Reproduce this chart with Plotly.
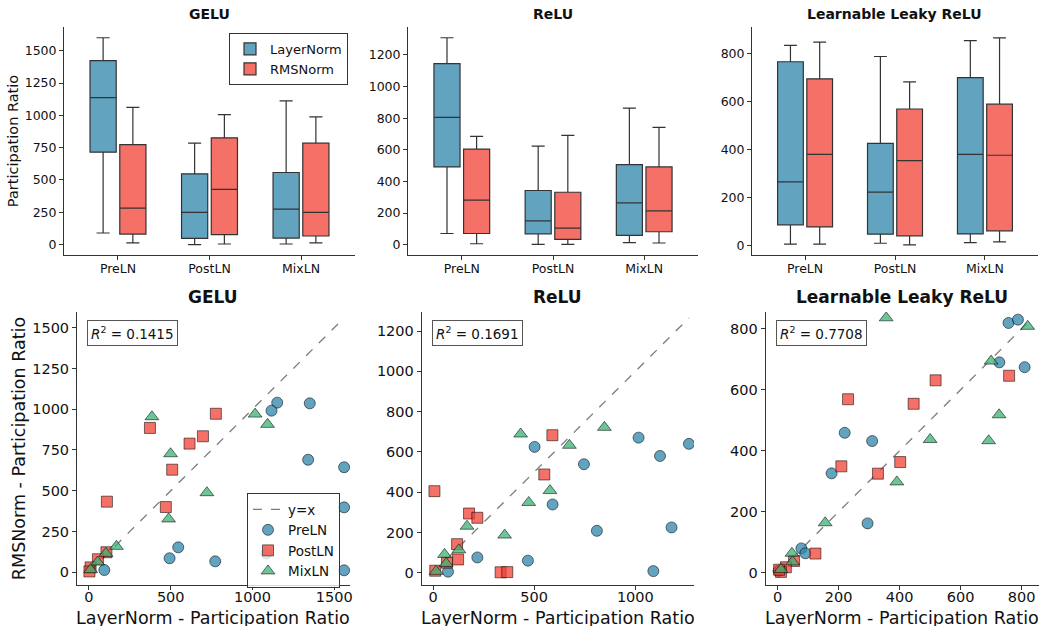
import plotly.graph_objects as go

# ---- categories ----
activations = ["GELU", "ReLU", "Learnable Leaky ReLU"]
archs = ["PreLN", "PostLN", "MixLN"]
r2_values = [0.1415, 0.1691, 0.7708]

# ---- box statistics (rows: GELU, ReLU, Learnable Leaky ReLU; cols: PreLN, PostLN, MixLN) ----
layernorm_low = [[90, 0, 5], [71, 2, 13], [4, 8, 11]]
layernorm_q1 = [[715, 49, 51], [492, 69, 59], [85, 46, 47]]
layernorm_med = [[1137, 250, 275], [805, 151, 265], [264, 221, 379]]
layernorm_q3 = [[1423, 548, 558], [1145, 343, 507], [765, 425, 699]]
layernorm_high = [[1600, 785, 1111], [1309, 624, 864], [833, 787, 853]]

rmsnorm_low = [[13, 5, 13], [6, 2, 11], [4, 1, 14]]
rmsnorm_q1 = [[82, 77, 67], [71, 34, 82], [76, 39, 60]]
rmsnorm_med = [[283, 427, 250], [282, 105, 214], [379, 353, 375]]
rmsnorm_q3 = [[774, 826, 785], [605, 332, 492], [694, 568, 588]]
rmsnorm_high = [[1062, 1006, 988], [685, 691, 742], [847, 681, 865]]

# ---- per-layer participation ratios (LayerNorm on x, RMSNorm on y) ----
gelu_preln_x = [1151, 1116, 1350, 1340, 1560, 1560, 1560, 772, 546, 493, 94, 1085]
gelu_preln_y = [1040, 991, 1036, 690, 644, 398, 12, 67, 153, 86, 14, 115]
gelu_postln_x = [776, 373, 697, 615, 509, 470, 110, 107, 55, 10, 3]
gelu_postln_y = [972, 885, 834, 789, 629, 400, 433, 123, 80, 30, 5]
gelu_mixln_x = [385, 1016, 1092, 499, 721, 487, 168, 104, 53, 10]
gelu_mixln_y = [954, 970, 907, 727, 488, 327, 159, 116, 63, 16]

relu_preln_x = [502, 746, 1016, 1122, 1265, 591, 810, 1179, 1089, 469, 219, 74]
relu_preln_y = [625, 539, 671, 580, 640, 339, 208, 225, 8, 60, 76, 5]
relu_postln_x = [590, 550, 7, 178, 219, 119, 124, 69, 11, 334, 367]
relu_postln_y = [683, 488, 405, 294, 273, 142, 66, 50, 10, 2, 3]
relu_mixln_x = [433, 847, 674, 578, 473, 354, 168, 57, 128, 65, 15]
relu_mixln_y = [689, 722, 633, 408, 349, 187, 231, 91, 114, 46, 7]

llrelu_preln_x = [757, 788, 727, 810, 220, 310, 177, 295, 78, 91, 3]
llrelu_preln_y = [819, 830, 690, 674, 459, 432, 326, 162, 80, 64, 6]
llrelu_postln_x = [518, 759, 231, 446, 402, 209, 329, 124, 54, 27, 11, 5]
llrelu_postln_y = [631, 646, 569, 554, 363, 349, 325, 63, 39, 18, 3, 10]
llrelu_mixln_x = [356, 820, 700, 726, 500, 692, 391, 156, 47, 49, 11]
llrelu_mixln_y = [836, 808, 694, 518, 437, 433, 298, 164, 64, 36, 11]

scatter_data = [
    [(gelu_preln_x, gelu_preln_y), (gelu_postln_x, gelu_postln_y), (gelu_mixln_x, gelu_mixln_y)],
    [(relu_preln_x, relu_preln_y), (relu_postln_x, relu_postln_y), (relu_mixln_x, relu_mixln_y)],
    [(llrelu_preln_x, llrelu_preln_y), (llrelu_postln_x, llrelu_postln_y), (llrelu_mixln_x, llrelu_mixln_y)],
]

# ---- styling ----
FONT = "DejaVu Sans"
LN_FILL = "rgba(46,134,171,0.75)"
RMS_FILL = "rgba(242,66,54,0.75)"
BOX_LINE = "#333333"
arch_colors = ["rgba(46,134,171,0.75)", "rgba(242,66,54,0.75)", "rgba(59,178,115,0.75)"]
arch_symbols = ["circle", "square", "triangle-up"]

W, H = 1041, 626

def px_x(a, b):
    return [a / W, b / W]

def px_y(top, bottom):
    return [(H - bottom) / H, (H - top) / H]

top_x_dom = [px_x(64, 355), px_x(408, 698), px_x(752, 1038)]
top_y_dom = px_y(27, 255)
bot_x_dom = [px_x(77, 350), px_x(421.7, 694), px_x(765.7, 1039)]
bot_y_dom = px_y(312, 585)

top_yranges = [[-80, 1683], [-65, 1377], [-41, 910]]
top_ydtick = [250, 200, 200]
bot_ranges = [([-73, 1596], [-78, 1596]), ([-56, 1290], [-61, 1295]), ([-39, 857], [-40, 855])]
bot_xdtick = [500, 500, 200]
bot_ydtick = [250, 200, 200]

fig = go.Figure()
layout = {}
annotations = []

axis_common = dict(
    showline=True, linecolor="#333", linewidth=1, mirror=False,
    ticks="outside", ticklen=4, tickwidth=1, tickcolor="#333",
    showgrid=False, zeroline=False, automargin=False,
)

for i, act in enumerate(activations):
    # ---------- top row: box plots ----------
    xa = f"xaxis{i + 1 if i else ''}"
    ya = f"yaxis{i + 1 if i else ''}"
    xref = f"x{i + 1 if i else ''}"
    yref = f"y{i + 1 if i else ''}"
    for name, fill, low, q1, med, q3, high in [
        ("LayerNorm", LN_FILL, layernorm_low, layernorm_q1, layernorm_med, layernorm_q3, layernorm_high),
        ("RMSNorm", RMS_FILL, rmsnorm_low, rmsnorm_q1, rmsnorm_med, rmsnorm_q3, rmsnorm_high),
    ]:
        fig.add_trace(go.Box(
            x=archs, lowerfence=low[i], q1=q1[i], median=med[i], q3=q3[i], upperfence=high[i],
            name=name, fillcolor=fill, line=dict(color=BOX_LINE, width=1.2),
            whiskerwidth=0.5, boxpoints=False, offsetgroup=name,
            legendgroup=name, showlegend=(i == 0), legend="legend",
            xaxis=xref, yaxis=yref, hoverinfo="skip",
        ))
    layout[xa] = dict(axis_common, domain=top_x_dom[i], anchor=yref, type="category",
                      range=[-0.59, 2.59], tickfont=dict(family=FONT, size=12.5, color="#111"),
                      ticklabelstandoff=-2)
    layout[ya] = dict(axis_common, domain=top_y_dom, anchor=xref, range=top_yranges[i],
                      dtick=top_ydtick[i], tick0=0, tickfont=dict(family=FONT, size=12.5, color="#111"))
    if i == 0:
        layout[ya]["title"] = dict(text="Participation Ratio", font=dict(family=FONT, size=14.5, color="#111"),
                                   standoff=2)
    annotations.append(dict(
        text=f"<b>{act}</b>", x=sum(top_x_dom[i]) / 2, y=(H - 14) / H, xref="paper", yref="paper",
        showarrow=False, font=dict(family=FONT, size=14, color="#111"), xanchor="center", yanchor="middle",
    ))

    # ---------- bottom row: scatter ----------
    k = i + 4
    xa2, ya2, xr2, yr2 = f"xaxis{k}", f"yaxis{k}", f"x{k}", f"y{k}"
    all_vals = []
    for j, arch in enumerate(archs):
        xs, ys = scatter_data[i][j]
        all_vals += list(xs) + list(ys)
    lo, hi = min(all_vals), max(all_vals)
    fig.add_trace(go.Scatter(
        x=[lo, hi], y=[lo, hi], mode="lines", name="y=x",
        line=dict(color="rgba(110,110,110,0.9)", width=1.3, dash="dash"),
        showlegend=(i == 0), legend="legend2", xaxis=xr2, yaxis=yr2, hoverinfo="skip",
    ))
    for j, arch in enumerate(archs):
        xs, ys = scatter_data[i][j]
        fig.add_trace(go.Scatter(
            x=xs, y=ys, mode="markers", name=arch,
            marker=dict(symbol=arch_symbols[j], size=11 if j != 2 else 12, color=arch_colors[j],
                        line=dict(color="rgba(0,0,0,0.6)", width=0.9)),
            showlegend=(i == 0), legend="legend2", xaxis=xr2, yaxis=yr2, hoverinfo="skip",
        ))
    layout[xa2] = dict(axis_common, domain=bot_x_dom[i], anchor=yr2, range=bot_ranges[i][0],
                       dtick=bot_xdtick[i], tick0=0, tickfont=dict(family=FONT, size=14.5, color="#111"),
                       ticklabelstandoff=-5)
    layout[ya2] = dict(axis_common, domain=bot_y_dom, anchor=xr2, range=bot_ranges[i][1],
                       dtick=bot_ydtick[i], tick0=0, tickfont=dict(family=FONT, size=14.5, color="#111"))
    if i == 0:
        layout[ya2]["title"] = dict(text="RMSNorm - Participation Ratio",
                                    font=dict(family=FONT, size=17.5, color="#111"), standoff=2)
    # x-axis title, placed just under the tick labels
    annotations.append(dict(
        text="LayerNorm - Participation Ratio", x=sum(bot_x_dom[i]) / 2, y=(H - 606) / H,
        xref="paper", yref="paper", xanchor="center", yanchor="top", showarrow=False,
        font=dict(family=FONT, size=17.5, color="#111"),
    ))
    annotations.append(dict(
        text=f"<b>{act}</b>", x=sum(bot_x_dom[i]) / 2, y=(H - 297) / H, xref="paper", yref="paper",
        showarrow=False, font=dict(family=FONT, size=17, color="#111"), xanchor="center", yanchor="middle",
    ))
    annotations.append(dict(
        text=f"<i>R</i><sup>2</sup> = {r2_values[i]:.4f}",
        x=bot_x_dom[i][0] + 10 / W, y=(H - 320) / H, xref="paper", yref="paper",
        xanchor="left", yanchor="top", showarrow=False,
        font=dict(family=FONT, size=13.5, color="#111"),
        bgcolor="white", bordercolor="#555", borderwidth=1, borderpad=3,
    ))

fig.update_layout(
    **layout,
    annotations=annotations,
    width=W, height=H,
    margin=dict(l=0, r=0, t=0, b=0, autoexpand=False),
    paper_bgcolor="white", plot_bgcolor="white",
    boxmode="group", boxgap=0.35, boxgroupgap=0.12,
    font=dict(family=FONT, color="#111"),
    legend=dict(x=229 / W, y=(H - 33) / H, xanchor="left", yanchor="top",
                bgcolor="white", bordercolor="#333", borderwidth=1,
                font=dict(family=FONT, size=13, color="#111"), tracegroupgap=0),
    legend2=dict(x=247 / W, y=(H - 493) / H, xanchor="left", yanchor="top",
                 bgcolor="rgba(255,255,255,0.8)", bordercolor="#333", borderwidth=1,
                 font=dict(family=FONT, size=13.5, color="#111")),
)

fig.write_html("out.html")
